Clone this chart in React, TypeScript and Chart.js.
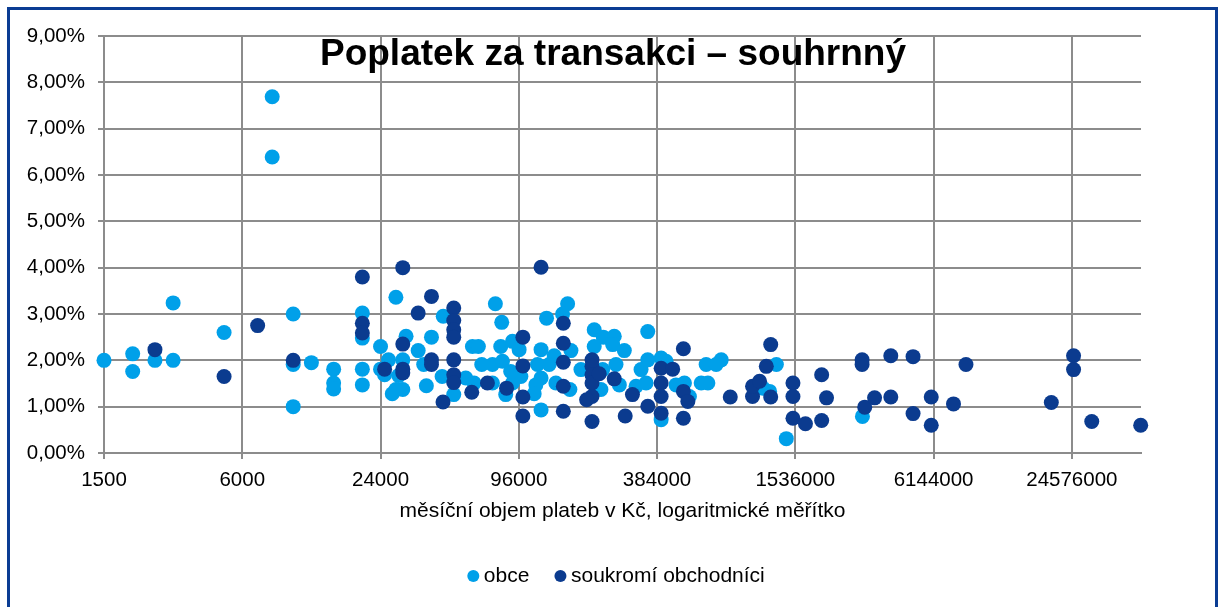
import React, { useEffect, useRef } from 'react';
import { Chart, registerables } from 'chart.js';

Chart.register(...registerables);

// ---- axis ticks ----
const xTickValues = [1500, 6000, 24000, 96000, 384000, 1536000, 6144000, 24576000];
const xMin = 1500;
const xMax = 49152000;
const yMin = 0;
const yMax = 9;
const yStep = 1;

// ---- texts ----
const titleText = 'Poplatek za transakci – souhrnný';
const xAxisTitle = 'měsíční objem plateb v Kč, logaritmické měřítko';
const seriesNames = ['obce', 'soukromí obchodníci'];

// ---- series: obce (monthly volume in Kč, fee in %) ----
const obceX = [
  1500, 2000, 2000, 2500, 3000, 3000, 5000, 8100, 8100, 10000,
  10000, 10000, 12000, 15000, 15000, 15000, 20000, 20000, 20000, 20000,
  24000, 24000, 26000, 25000, 27000, 28000, 31000, 30000, 28800, 30000,
  28000, 35000, 38000, 37000, 40000, 45000, 44500, 50000, 56400, 61300,
  60300, 64000, 66200, 73700, 73700, 75900, 80900, 80100, 81500, 84200,
  90100, 90100, 98000, 96300, 120000, 156600, 148900, 126800, 161900, 136900,
  115800, 130200, 120000, 113900, 139200, 160200, 112000, 120000, 204500, 224000,
  250000, 246000, 276500, 204500, 179000, 218700, 254400, 263100, 311100, 327000,
  349700, 349700, 400000, 420300, 628000, 730600, 694500, 344000, 464700, 505200,
  597600, 639000, 531000, 400000, 1110000, 1270000, 1187000, 1403000, 3010000, 88500,
  222600,
];
const obceY = [
  2.00, 2.14, 1.76, 2.00, 3.24, 2.00, 2.60, 7.69, 6.39, 3.00,
  1.91, 1.00, 1.95, 1.81, 1.51, 1.38, 3.02, 2.48, 1.81, 1.47,
  2.30, 1.81, 2.01, 1.69, 1.28, 3.36, 2.52, 1.37, 1.67, 2.01,
  1.37, 2.21, 1.45, 1.91, 2.50, 2.95, 1.65, 1.26, 1.62, 1.51,
  2.30, 2.30, 1.91, 1.91, 1.51, 3.22, 2.82, 2.30, 1.98, 1.26,
  2.41, 1.51, 1.65, 2.23, 2.23, 3.22, 3.00, 2.91, 2.21, 2.10,
  1.91, 1.91, 1.62, 1.47, 1.51, 1.37, 1.28, 0.93, 2.66, 2.50,
  2.52, 2.34, 2.21, 2.30, 1.80, 1.37, 1.91, 1.47, 1.44, 1.80,
  2.62, 2.01, 2.05, 1.98, 1.91, 2.01, 1.91, 1.51, 1.47, 1.51,
  1.51, 1.51, 1.22, 0.72, 1.40, 1.91, 1.33, 0.31, 0.79, 1.76,
  1.80,
];

// ---- series: soukromí obchodníci ----
const soukX = [
  2500, 5000, 7000, 10000, 20000, 20000, 20000, 25000, 30000, 30000,
  30000, 30000, 40000, 35000, 50000, 50000, 50000, 50000, 40000, 40000,
  50000, 50000, 50000, 70100, 84900, 59900, 44900, 100000, 100000, 100000,
  100000, 120000, 150000, 150000, 150000, 150000, 150000, 200000, 200000, 200000,
  200000, 200000, 215000, 189500, 200000, 250000, 300000, 279000, 350000, 500000,
  400000, 449000, 400000, 500000, 522800, 400000, 400000, 500000, 800000, 1000000,
  1000000, 1073000, 1148000, 1200000, 1200000, 1500000, 1500000, 1500000, 1700000, 2000000,
  2000000, 2100000, 3000000, 3000000, 3080000, 3400000, 4000000, 4000000, 5000000, 5000000,
  6000000, 6000000, 7500000, 8500000, 20000000, 25000000, 25000000, 30000000, 49000000,
];
const soukY = [
  2.23, 1.65, 2.75, 2.00, 3.80, 2.80, 2.59, 1.81, 4.00, 2.35,
  1.81, 1.73, 3.38, 3.02, 3.13, 2.86, 2.66, 2.50, 2.01, 1.91,
  2.01, 1.69, 1.52, 1.51, 1.40, 1.31, 1.10, 2.50, 1.88, 1.21,
  0.80, 4.01, 2.80, 2.37, 1.96, 1.44, 0.90, 2.01, 1.87, 1.69,
  1.51, 1.22, 1.71, 1.15, 0.68, 1.60, 1.26, 0.80, 1.01, 2.25,
  1.83, 1.81, 1.51, 1.33, 1.11, 1.22, 0.86, 0.75, 1.21, 1.22,
  1.44, 1.55, 1.87, 2.34, 1.21, 1.51, 1.22, 0.75, 0.63, 0.70,
  1.69, 1.19, 2.01, 1.91, 0.99, 1.19, 2.10, 1.21, 2.08, 0.85,
  1.21, 0.60, 1.06, 1.91, 1.09, 2.10, 1.80, 0.68, 0.60,
];

// ---- styles ----
const LIGHT = '#00a0e9';
const DARK = '#0b3b8f';
const FRAME = '#0a3c93';
const GRID = '#8c8c8c';
const TEXT = '#000000';
const FONT = '"Liberation Sans", Arial, Helvetica, sans-serif';

const overlayTitle = {
  id: 'overlayTitle',
  afterDatasetsDraw(chart: any) {
    const ctx = chart.ctx;
    ctx.save();
    ctx.font = `bold 37px ${FONT}`;
    ctx.fillStyle = TEXT;
    ctx.textAlign = 'center';
    ctx.textBaseline = 'alphabetic';
    ctx.fillText(titleText, 613, 65);
    ctx.restore();
  },
};

// centre the legend under the plot area rather than under the whole canvas
const legendShift = {
  id: 'legendShift',
  afterLayout(chart: any) {
    const lg = chart.legend;
    if (lg) lg.left = 97;
  },
};

export default function App() {
  const ref = useRef<HTMLCanvasElement>(null);

  useEffect(() => {
    if (!ref.current) return;
    const toPoints = (xs: number[], ys: number[]) => xs.map((x, i) => ({ x, y: ys[i] }));
    const chart = new Chart(ref.current, {
      type: 'scatter',
      data: {
        datasets: [
          {
            label: seriesNames[1],
            data: toPoints(soukX, soukY),
            backgroundColor: DARK,
            borderWidth: 0,
            pointRadius: 7.5,
            pointHoverRadius: 7.5,
            clip: false,
          },
          {
            label: seriesNames[0],
            data: toPoints(obceX, obceY),
            backgroundColor: LIGHT,
            borderWidth: 0,
            pointRadius: 7.5,
            pointHoverRadius: 7.5,
            clip: false,
          },
        ],
      },
      options: {
        responsive: false,
        animation: false,
        devicePixelRatio: 1,
        layout: { padding: { left: 0, right: 78, top: 36, bottom: 10.5 } },
        plugins: {
          title: { display: false },
          tooltip: { enabled: false },
          legend: {
            position: 'bottom',
            reverse: true,
            labels: {
              usePointStyle: true,
              pointStyle: 'circle',
              boxWidth: 0.1,
              boxHeight: 8.5,
              padding: 31,
              color: TEXT,
              font: { family: FONT, size: 21 },
            },
          },
        },
        scales: {
          x: {
            type: 'logarithmic',
            min: xMin,
            max: xMax,
            afterBuildTicks: (scale: any) => {
              scale.ticks = xTickValues.map((v) => ({ value: v }));
            },
            afterFit: (scale: any) => {
              scale.height = 81.5;
            },
            grid: { color: GRID, lineWidth: 2, tickLength: 6, tickColor: GRID, tickWidth: 2 },
            border: { color: GRID, width: 2 },
            ticks: {
              autoSkip: false,
              maxRotation: 0,
              minRotation: 0,
              padding: 9,
              color: TEXT,
              font: { family: FONT, size: 20.5 },
              callback: (v: any) => String(v),
            },
            title: {
              display: true,
              text: xAxisTitle,
              color: TEXT,
              font: { family: FONT, size: 21 },
              padding: { top: 0, bottom: 11 },
            },
          },
          y: {
            type: 'linear',
            min: yMin,
            max: yMax,
            afterFit: (scale: any) => {
              scale.width = 104;
            },
            grid: { color: GRID, lineWidth: 2, tickLength: 6, tickColor: GRID, tickWidth: 2 },
            border: { color: GRID, width: 2 },
            ticks: {
              stepSize: yStep,
              padding: 13,
              color: TEXT,
              font: { family: FONT, size: 20.5 },
              callback: (v: any) => Number(v).toFixed(2).replace('.', ',') + '%',
            },
          },
        },
      },
      plugins: [overlayTitle, legendShift],
    } as any);
    return () => chart.destroy();
  }, []);

  return (
    <div>
      <canvas
        ref={ref}
        width={1219}
        height={607}
        style={{ position: 'absolute', left: 0, top: 0, width: 1219, height: 607 }}
      />
      <div
        style={{
          position: 'absolute',
          left: 7,
          top: 7,
          width: 1211,
          height: 600,
          boxSizing: 'border-box',
          border: `3px solid ${FRAME}`,
          borderBottom: 'none',
          pointerEvents: 'none',
        }}
      />
    </div>
  );
}
